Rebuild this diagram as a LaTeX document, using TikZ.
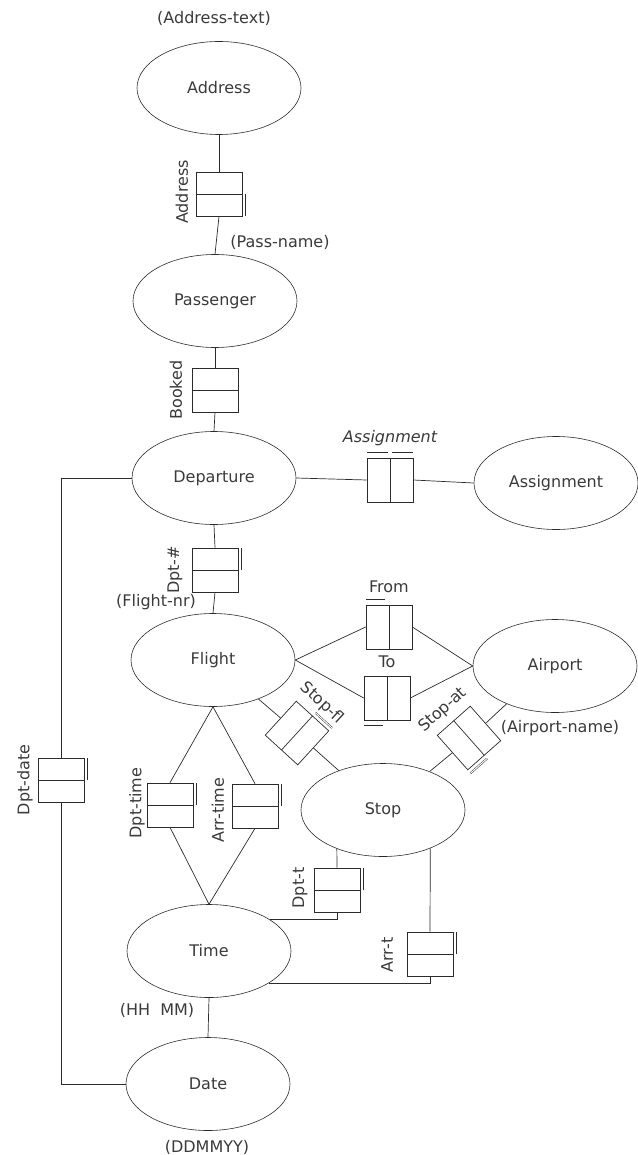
\documentclass[tikz,border=0pt]{standalone}
\usepackage{fontspec}
\setmainfont{DejaVu Sans}
\usetikzlibrary{shapes.geometric,calc}
\definecolor{Ink}{HTML}{2B2B2B}
\definecolor{Quiet}{HTML}{3A3A3A}
\tikzset{
  ent/.style={ellipse,draw=Ink,line width=0.6pt,minimum width=164pt,minimum height=93pt,inner sep=0pt,font=\fontsize{16}{19}\selectfont,text=Quiet},
  rel/.style={rectangle,draw=Ink,line width=0.7pt,minimum width=46pt,minimum height=44pt,inner sep=0pt},
  lnk/.style={draw=Ink,line width=0.7pt},
  mk/.style={draw=Ink,line width=0.45pt,double,double distance=1pt},
  lbl/.style={font=\fontsize{16}{19}\selectfont,text=Quiet,inner sep=1pt},
  vl/.style={lbl,rotate=90},
  att/.style={lbl},
}
\begin{document}
\begin{tikzpicture}[x=1pt,y=-1pt]
\path[use as bounding box] (0,0) rectangle (637,1155);
% -passenger column-
\node[att] (addrtx) at (214,18) {(Address-text)};
\node[ent] (addr) at (219,88) {Address};
\node[rel] (addrb) at (219,194) {};
\node[vl] (addrl) at (182,192) {Address};
\node[att] (passnm) at (280,242) {(Pass-name)};
\node[ent] (pass) at (215,301) {Passenger};
\node[rel] (bkd) at (215,390) {};
\node[vl] (bkdl) at (176,390) {Booked};
\node[ent] (dep) at (214,478) {Departure};
\draw[lnk] (addr.south) -- (addrb.north); \draw[lnk] (addrb.south) -- (pass.north);
\draw[lnk] (pass.south) -- (bkd.north); \draw[lnk] (bkd.south) -- (dep.north);
\draw[lnk] (addrb.west) -- (addrb.east); \draw[lnk] (bkd.west) -- (bkd.east);
\draw[mk] ([xshift=4pt]addrb.east) -- ([xshift=4pt]addrb.south east);
% -assignment-
\node[rel] (asgb) at (390,480) {};
\node[lbl,font=\fontsize{16}{19}\selectfont\itshape] (asgl) at (390,438) {Assignment};
\node[ent] (asg) at (556,483) {Assignment};
\draw[lnk] (dep.east) -- (asgb.west); \draw[lnk] (asgb.east) -- (asg.west);
\draw[lnk] (asgb.north) -- (asgb.south);
\draw[mk] ([yshift=6pt]asgb.north west) -- ([yshift=6pt,xshift=-2pt]asgb.north);
\draw[mk] ([yshift=6pt,xshift=2pt]asgb.north) -- ([yshift=6pt]asgb.north east);
% -flight and airport-
\node[rel] (dpn) at (215,570) {};
\node[vl] (dpnl) at (175,570) {Dpt-\#};
\node[att] (fltnr) at (156,602) {(Flight-nr)};
\node[ent] (flt) at (213,660) {Flight};
\draw[lnk] (dep.south) -- (dpn.north); \draw[lnk] (dpn.south) -- (flt.north);
\draw[lnk] (dpn.west) -- (dpn.east);
\draw[mk] ([xshift=4pt]dpn.north east) -- ([xshift=4pt]dpn.east);
\node[rel] (from) at (389,627) {};
\node[lbl] (froml) at (389,587) {From};
\node[rel] (to) at (387,698) {};
\node[lbl] (tol) at (387,662) {To};
\node[ent] (apt) at (555,666) {Airport};
\node[att] (aptnm) at (560,728) {(Airport-name)};
\draw[lnk] (flt.east) -- (from.west); \draw[lnk] (from.east) -- (apt.west);
\draw[lnk] (flt.east) -- (to.west); \draw[lnk] (to.east) -- (apt.west);
\draw[lnk] (from.north) -- (from.south); \draw[lnk] (to.north) -- (to.south);
\draw[mk] ([yshift=6pt]from.north west) -- ([yshift=6pt,xshift=-4pt]from.north);
\draw[mk] ([yshift=-6pt]to.south west) -- ([yshift=-6pt,xshift=-4pt]to.south);
% -stop-
\node[ent] (stop) at (383,810) {Stop};
\node[rel,rotate=47.6] (sfl) at (297,733) {};
\node[lbl,rotate=-42.4] (sfll) at (322,703) {Stop-fl};
\node[rel,rotate=-48.5] (sat) at (469,738) {};
\node[lbl,rotate=41.5] (satl) at (443,710) {Stop-at};
\draw[lnk] (sfl.north) -- (flt); \draw[lnk] (sfl.south) -- (stop);
\draw[lnk] (sat.north) -- (apt.218); \draw[lnk] (sat.south) -- (stop);
\draw[lnk] (sfl.west) -- (sfl.east); \draw[lnk] (sat.west) -- (sat.east);
\draw[mk] ($(sfl.east)!-4pt!(sfl.west)$) -- ($(sfl.south east)!-4pt!(sfl.south west)$);
\draw[mk] ($(sat.east)!-4pt!(sat.west)$) -- ($(sat.south east)!-4pt!(sat.south west)$);
% -time and date-
\node[ent] (time) at (209,951) {Time};
\node[att] (hhmm) at (157,1010) {(HH\ \ MM)};
\node[ent] (date) at (208,1084) {Date};
\node[att] (ddmm) at (207,1147) {(DDMMYY)};
\draw[lnk] (time.south) -- (date.north);
\node[rel] (dd) at (61,780) {};
\node[vl] (ddl) at (25,780) {Dpt-date};
\draw[lnk] (dep.west) -| (dd.north); \draw[lnk] (dd.south) |- (date.west);
\node[rel] (dtm) at (170,805) {};
\node[vl] (dtml) at (137,803) {Dpt-time};
\node[rel] (atm) at (255,806) {};
\node[vl] (atml) at (218,810) {Arr-time};
\draw[lnk] (flt.south) -- (dtm.north); \draw[lnk] (dtm.south) -- (time.north);
\draw[lnk] (flt.south) -- (atm.north); \draw[lnk] (atm.south) -- (time.north);
\node[rel] (dpt) at (337,890) {};
\node[vl] (dptl) at (300,888) {Dpt-t};
\node[rel] (arr) at (430,954) {};
\node[vl] (arrl) at (387,955) {Arr-t};
\draw[lnk] (stop.220) -- (dpt.north); \draw[lnk] (dpt.south) |- (time.27);
\draw[lnk] (stop.321) -- (arr.north); \draw[lnk] (arr.south) |- (time.-28);
\draw[lnk] (dd.west) -- (dd.east); \draw[lnk] (dtm.west) -- (dtm.east); \draw[lnk] (atm.west) -- (atm.east);
\draw[lnk] (dpt.west) -- (dpt.east); \draw[lnk] (arr.west) -- (arr.east);
\draw[mk] ([xshift=4pt]dd.north east) -- ([xshift=4pt]dd.east);
\draw[mk] ([xshift=4pt]dtm.north east) -- ([xshift=4pt]dtm.east);
\draw[mk] ([xshift=4pt]atm.north east) -- ([xshift=4pt]atm.east);
\draw[mk] ([xshift=4pt]dpt.north east) -- ([xshift=4pt]dpt.east);
\draw[mk] ([xshift=4pt]arr.north east) -- ([xshift=4pt]arr.east);
\end{tikzpicture}
\end{document}
